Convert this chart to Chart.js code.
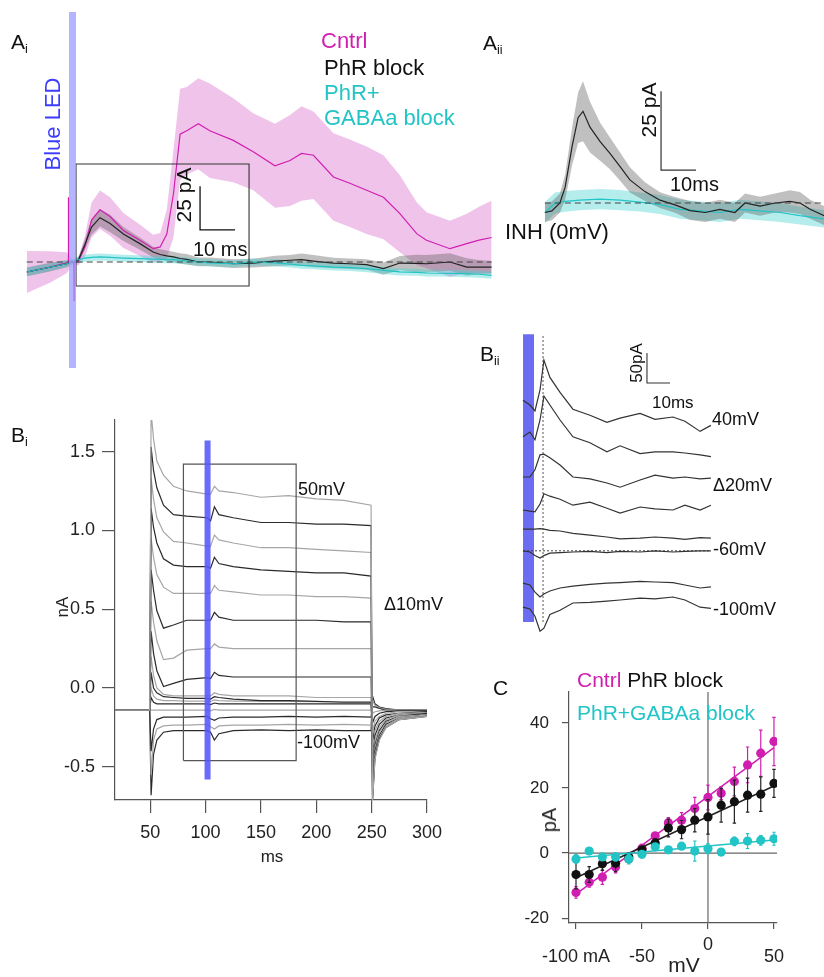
<!DOCTYPE html>
<html>
<head>
<meta charset="utf-8">
<script src="https://cdn.jsdelivr.net/npm/chart.js@4.4.1/dist/chart.umd.min.js"></script>
<style>
body { margin: 0; background: #fff; }
#fig { position: relative; width: 824px; height: 977px; overflow: hidden; font-family: "Liberation Sans", Arial, Helvetica, sans-serif; color: #111; }
canvas { position: absolute; }
.t { position: absolute; white-space: nowrap; line-height: 1; }
.t sub { font-size: 0.6em; vertical-align: baseline; position: relative; top: 0.3em; }
</style>
</head>
<body>
<div id="fig">
  <canvas id="ai" width="500" height="380" style="left:0;top:0"></canvas>
  <canvas id="aii" width="324" height="240" style="left:500px;top:20px"></canvas>
  <canvas id="bi" width="470" height="470" style="left:0;top:410px"></canvas>
  <canvas id="bii" width="220" height="310" style="left:500px;top:330px"></canvas>
  <canvas id="c" width="344" height="317" style="left:480px;top:660px"></canvas>
</div>
<script>
// ---- Ai : mean +/- sem, pA vs ms (0 = LED onset)
var aiTime = [-13.2, -6.6, -1.8, 0, 1.5, 3.4, 5.3, 7.7, 10.6, 14.4, 19.1, 22.9, 24.9, 26.8, 28.7, 30.6, 32.5, 35.8, 39.1, 45.8, 51.5, 57.7, 62, 65.3, 68.7, 74.4, 79.1, 83.9, 88.7, 93.4, 98.2, 101, 107.7, 112.5, 116, 119.6];
var aiCntrl = [-5.7, -2.9, -0.5, 0, 0, 8.7, 24, 29.8, 26, 18, 12.4, 7.6, 8.6, 16, 39, 73, 75, 79, 75, 69.5, 63, 55, 58, 62, 61, 48.6, 45, 41, 37, 27.6, 16.2, 12.4, 7.6, 10.5, 12.5, 14];
var aiCntrlSem = [12, 9, 6, 1, 2, 6, 10, 11, 11, 10, 9, 8, 8, 14, 25, 26, 25, 26, 27, 24, 22, 24, 26, 27, 25, 25, 25, 25, 24, 22, 18, 16, 16, 17, 19, 21];
var aiPhR = [-5.7, -3, -1, 0, 1, 10, 20, 25.3, 22, 16, 10.5, 5.7, 4.3, 3.5, 2.9, 2, 1.5, 0, 0, -1, -0.6, 0.5, 1, 1.3, 0.5, -0.6, -1, -1.5, -3.8, -0.6, -0.8, -1, 0, -2.9, -2.9, -2.9];
var aiPhRSem = [2.5, 2.5, 2, 1, 1.5, 3, 4.5, 5, 5, 4, 3.5, 3, 3, 3, 3, 3, 3, 2.5, 2.5, 2.5, 2.5, 3, 3, 3.5, 3.5, 3, 3, 3, 3.5, 4, 5, 5, 5, 5, 4, 3.5];
var aiGaba = [-5.7, -3, -1, 0.5, 1.3, 2.2, 2.6, 2.9, 2.6, 2.2, 1.9, 1.6, 1.5, 1.3, 1.3, 1, 0.5, 0, -0.5, -1, 0, -0.5, -1.2, -1.9, -2.2, -2.9, -3.2, -3.8, -4.8, -5.7, -5.9, -6.3, -6.5, -6.7, -7, -7.6];
var aiGabaSem = [2.5, 2.2, 2, 1.5, 2, 2, 2, 2, 2, 2, 2, 2, 2, 2, 2, 2, 2, 2, 2, 2, 2, 2, 2, 2, 2, 2, 2, 2, 2, 2, 2, 2, 2, 2, 2, 2];
var aiArtifactT = [-1.4, -1.3, -1.2, 0.2, 0.3, 0.4];
var aiArtifact = [0, 37, 0, 0, -22, 0];

// ---- Aii : INH (0 mV)
var aiiPhRT = [-2.9, -0.9, 1.4, 2.9, 4.9, 6.6, 8, 10, 12.9, 15.7, 18.6, 21.4, 25.7, 30, 34.3, 38.6, 42.9, 47.1, 51.4, 54.3, 58.6, 62.9, 67.1, 70, 72.9, 76.9];
var aiiPhR = [-3, -2.5, 0, 5, 18, 27, 29, 24, 19.4, 15.7, 11.5, 7.3, 3.6, 0.9, -0.6, -2.4, -3, -2, -3, 0, -1, 0, 0.5, 0, -2, -4];
var aiiPhRSem = [3, 3, 3, 4, 6, 8, 9.5, 8, 6, 5, 4.5, 4, 3, 2.5, 2.5, 3, 3, 3, 3, 3, 3, 3, 3.5, 3.5, 3, 3];
var aiiGabaT = [-2.9, 0, 2.9, 7.1, 12.9, 18.6, 24.3, 30, 35.7, 41.4, 47.1, 52.9, 58.6, 64.3, 70, 76.9];
var aiiGaba = [-3, 0, 0.5, 0.9, 1.2, 0.9, 0.3, -0.5, -2, -2.5, -3, -2, -2.5, -3, -4, -5];
var aiiGabaSem = [3.3, 3.3, 3.3, 3.2, 3.2, 3.2, 3, 3, 3, 3, 3, 3, 3, 3, 2.8, 2.8];

// ---- Bi : step currents (nA) vs ms
var biTimes = [18, 49.5, 50.8, 53, 56, 62, 71, 83, 101.5, 104.5, 108, 112, 125, 150, 175, 200, 225, 249.5, 250.8, 253, 257, 263, 275, 300];
var biSteps = [50, 40, 30, 20, 10, 0, -10, -20, -30, -40, -50, -60, -70, -80, -90, -100];
var biCurrents = [
  [-0.14, -0.14, 1.75, 1.58, 1.44, 1.35, 1.28, 1.25, 1.23, 1.23, 1.28, 1.25, 1.24, 1.21, 1.22, 1.20, 1.19, 1.16, -0.72, -0.45, -0.33, -0.25, -0.20, -0.18],
  [-0.14, -0.14, 1.53, 1.38, 1.27, 1.16, 1.10, 1.09, 1.08, 1.06, 1.15, 1.10, 1.08, 1.05, 1.05, 1.04, 1.04, 1.03, -0.72, -0.44, -0.32, -0.25, -0.20, -0.18],
  [-0.14, -0.14, 1.33, 1.20, 1.08, 0.99, 0.93, 0.92, 0.90, 0.90, 0.97, 0.94, 0.92, 0.89, 0.89, 0.88, 0.87, 0.86, -0.70, -0.42, -0.31, -0.24, -0.19, -0.17],
  [-0.14, -0.14, 1.14, 1.02, 0.92, 0.82, 0.78, 0.77, 0.77, 0.76, 0.83, 0.79, 0.77, 0.75, 0.74, 0.73, 0.73, 0.71, -0.68, -0.40, -0.30, -0.23, -0.19, -0.17],
  [-0.14, -0.14, 0.95, 0.83, 0.72, 0.64, 0.60, 0.60, 0.60, 0.60, 0.65, 0.62, 0.61, 0.59, 0.59, 0.58, 0.58, 0.57, -0.65, -0.38, -0.28, -0.22, -0.18, -0.17],
  [-0.14, -0.14, 0.75, 0.62, 0.49, 0.38, 0.40, 0.43, 0.43, 0.43, 0.48, 0.45, 0.43, 0.43, 0.43, 0.43, 0.42, 0.42, -0.60, -0.36, -0.27, -0.21, -0.18, -0.16],
  [-0.14, -0.14, 0.55, 0.42, 0.30, 0.18, 0.19, 0.24, 0.25, 0.25, 0.28, 0.26, 0.25, 0.25, 0.25, 0.25, 0.25, 0.25, -0.55, -0.33, -0.25, -0.20, -0.17, -0.16],
  [-0.14, -0.14, 0.36, 0.22, 0.11, 0.01, 0.03, 0.055, 0.066, 0.06, 0.10, 0.08, 0.07, 0.07, 0.07, 0.07, 0.07, 0.07, -0.50, -0.30, -0.23, -0.19, -0.17, -0.16],
  [-0.14, -0.14, 0.20, 0.08, 0.00, -0.04, -0.05, -0.05, -0.05, -0.05, -0.03, -0.04, -0.05, -0.05, -0.05, -0.06, -0.06, -0.06, -0.42, -0.27, -0.21, -0.18, -0.16, -0.155],
  [-0.14, -0.14, 0.10, 0.00, -0.03, -0.055, -0.06, -0.065, -0.066, -0.07, -0.055, -0.06, -0.07, -0.08, -0.08, -0.085, -0.09, -0.09, -0.35, -0.24, -0.19, -0.17, -0.16, -0.15],
  [-0.14, -0.14, 0.00, -0.05, -0.07, -0.08, -0.08, -0.083, -0.083, -0.085, -0.075, -0.08, -0.083, -0.085, -0.085, -0.087, -0.087, -0.087, -0.28, -0.21, -0.18, -0.16, -0.15, -0.15],
  [-0.14, -0.14, -0.06, -0.09, -0.10, -0.10, -0.10, -0.10, -0.10, -0.105, -0.095, -0.10, -0.10, -0.10, -0.10, -0.10, -0.10, -0.10, -0.22, -0.18, -0.16, -0.15, -0.145, -0.145],
  [-0.14, -0.14, -0.14, -0.14, -0.14, -0.14, -0.14, -0.14, -0.14, -0.145, -0.135, -0.14, -0.14, -0.14, -0.14, -0.14, -0.14, -0.14, -0.16, -0.15, -0.145, -0.14, -0.14, -0.14],
  [-0.14, -0.14, -0.40, -0.26, -0.20, -0.185, -0.185, -0.185, -0.18, -0.195, -0.205, -0.19, -0.185, -0.185, -0.18, -0.185, -0.18, -0.185, -0.12, -0.12, -0.13, -0.14, -0.14, -0.14],
  [-0.14, -0.14, -0.55, -0.33, -0.26, -0.24, -0.235, -0.235, -0.23, -0.245, -0.26, -0.24, -0.235, -0.235, -0.23, -0.235, -0.23, -0.235, -0.08, -0.11, -0.125, -0.135, -0.14, -0.14],
  [-0.14, -0.14, -0.68, -0.42, -0.33, -0.28, -0.27, -0.27, -0.27, -0.28, -0.33, -0.29, -0.27, -0.265, -0.27, -0.265, -0.27, -0.27, -0.05, -0.10, -0.12, -0.13, -0.14, -0.14]
];
var biXTicks = [50, 100, 150, 200, 250, 300];
var biYTicks = [-0.5, 0, 0.5, 1.0, 1.5];

// ---- Bii : LED evoked currents (pA, relative to each trace start)
var biiTimes = [0, 3, 5.2, 7.4, 9.1, 11.7, 16.1, 21.7, 29.1, 36.5, 42.2, 50.9, 57.4, 65.2, 70.4, 77, 81.7];
var biiHolding = [40, 20, 0, -20, -40, -60, -80, -100];
var biiTraces = [
  [0, -8, -18, 17, 67, 38, 13, -15, -25, -37, -30, -22, -32, -28, -35, -52, -42],
  [0, 8, -5, 28, 68, 53, 28, 0, -10, -25, -15, -28, -25, -25, -27, -30, -33],
  [0, 0, 12, 37, 38, 32, 20, 0, -3, -10, -17, -5, 3, -2, 0, -3, -2],
  [0, -2, -3, 10, 27, 23, 18, 8, 13, 3, -5, 5, 2, 0, 8, 0, 8],
  [0, 0, 0, 1, 0, -2, -3, -7, -10, -13, -16, -15, -13, -15, -17, -14, -15],
  [0, -2, -8, -12, -8, -4, -3, -2, -1, -3, -1, -2, 0, -2, -1, 0, 0],
  [0, -3, -15, -23, -18, -13, -8, -5, -2, 0, 1, 3, 2, 1, -3, -8, -6],
  [0, -3, -15, -40, -35, -12, -5, 7, 8, 10, 12, 15, 14, 17, 12, 0, -2]
];
// vertical stacking of the traces on the page (pA)
var biiOffsets = [383, 322, 255, 200, 168, 132, 78, 38];

// ---- C : I-V
var cVolt = [-100, -90, -80, -70, -60, -50, -40, -30, -20, -10, 0, 10, 20, 30, 40, 50];
var cCntrl = [-12.1, -9.0, -7.4, -4.3, -1.8, 1.5, 5.3, 9.3, 10.1, 13.7, 17.1, 18.4, 22.0, 27.1, 30.7, 34.3];
var cCntrlErr = [1.8, 1.5, 2.2, 1.8, 1, 1, 1, 1.6, 2.3, 3.4, 3.8, 2, 4.4, 5.5, 7.1, 7.4];
var cPhR = [-6.6, -6.6, -3.3, -3.1, -1.2, 1.0, 3.1, 7.7, 7.2, 10.1, 11.1, 14.7, 15.8, 17.8, 18.1, 21.4];
var cPhRErr = [4.4, 2.4, 2, 2.6, 1, 1, 1.3, 2.7, 2.8, 3.6, 5.3, 5.2, 6.6, 5.2, 5.3, 4.3];
var cGaba = [-1.8, 0.6, -1.2, -1.2, -1.8, -0.4, 1.9, 1.0, 2.1, 0.6, 1.3, 0.3, 3.6, 3.7, 3.9, 4.4];
var cGabaErr = [1.3, 0.8, 1, 1.2, 1.5, 1, 1, 0.8, 0.8, 3.1, 1.5, 0.8, 1.3, 2.3, 1.5, 2];
var cFitV = [-100, 50];
var cCntrlFit = [-12.6, 32.4];
var cPhRFit = [-7.6, 20.6];
var cGabaFit = [-1.5, 4.0];
var cXTicks = [-100, -50, 0, 50];
var cXTickText = ['-100 mA', '-50', '', '50'];
var cYTicks = [-20, 0, 20, 40];

var MAG = '#d01fb0', CYAN = '#22c4c6';

Chart.defaults.font.family = '"Liberation Sans", Arial, Helvetica, sans-serif';
Chart.defaults.color = '#222';

function pts(xs, ys, add) {
  return xs.map(function (x, i) { return { x: x, y: ys[i] + (add || 0) }; });
}
function shifted(xs, ys, err, sign) {
  return xs.map(function (x, i) { return { x: x, y: ys[i] + sign * err[i] }; });
}
function seg(x0, y0, x1, y1) { return [{ x: x0, y: y0 }, { x: x1, y: y1 }]; }
function rect(x0, y0, x1, y1) {
  return [{ x: x0, y: y0 }, { x: x1, y: y0 }, { x: x1, y: y1 }, { x: x0, y: y1 }, { x: x0, y: y0 }];
}
function lineDs(data, color, width, dash) {
  return { data: data, borderColor: color, borderWidth: width, borderDash: dash || [], pointRadius: 0, fill: false, tension: 0 };
}
function bandDs(xs, ys, err, color) {
  return [
    { data: shifted(xs, ys, err, 1), borderWidth: 0, borderColor: 'rgba(0,0,0,0)', backgroundColor: color, pointRadius: 0, fill: '+1' },
    { data: shifted(xs, ys, err, -1), borderWidth: 0, borderColor: 'rgba(0,0,0,0)', pointRadius: 0, fill: false }
  ];
}
function bareOptions(xmin, xmax, ymin, ymax) {
  return {
    animation: false, responsive: false, events: [],
    layout: { padding: 0 },
    plugins: { legend: { display: false }, tooltip: { enabled: false } },
    scales: {
      x: { type: 'linear', display: false, min: xmin, max: xmax },
      y: { type: 'linear', display: false, min: ymin, max: ymax }
    }
  };
}
// fix the axis box size and drop the label overflow padding
function fixBox(size, horizontal) {
  return function (s) {
    if (horizontal) s.height = size; else s.width = size;
    s.paddingTop = 0; s.paddingBottom = 0; s.paddingLeft = 0; s.paddingRight = 0;
  };
}

// ---------- Ai
var aiSets = [
  lineDs(seg(-0.14, -60.6, -0.14, 142.9), 'rgba(160,160,255,0.78)', 7),
  lineDs(rect(0.86, -13.7, 50.3, 56), '#333', 1.1),
  lineDs([{ x: 36.3, y: 43.3 }, { x: 36.3, y: 18.3 }, { x: 46.3, y: 18.3 }], '#111', 1.3),
  lineDs(seg(-13.2, 0, 119.6, 0), '#444', 1.1, [6, 4]),
  lineDs(pts(aiTime, aiGaba), CYAN, 1.2),
  lineDs(pts(aiTime, aiPhR), '#222', 1.2),
  lineDs(pts(aiTime, aiCntrl), MAG, 1.2),
  lineDs(pts(aiArtifactT, aiArtifact), MAG, 1.5)
].concat(bandDs(aiTime, aiGaba, aiGabaSem, 'rgba(70,210,210,0.4)'))
 .concat(bandDs(aiTime, aiPhR, aiPhRSem, 'rgba(90,90,90,0.38)'))
 .concat(bandDs(aiTime, aiCntrl, aiCntrlSem, 'rgba(222,125,208,0.45)'));

new Chart(document.getElementById('ai'), {
  type: 'line',
  data: { datasets: aiSets },
  options: bareOptions(-20.857, 122.0, -67.43, 149.71)
});

// ---------- Aii
var aiiSets = [
  lineDs([{ x: 30.3, y: 35.4 }, { x: 30.3, y: 10.4 }, { x: 40.3, y: 10.4 }], '#333', 1.2),
  lineDs(seg(-2.9, 0, 76.9, 0), '#444', 1.1, [6, 4]),
  lineDs(pts(aiiPhRT, aiiPhR), '#222', 1.2),
  lineDs(pts(aiiGabaT, aiiGaba), CYAN, 1.2)
].concat(bandDs(aiiPhRT, aiiPhR, aiiPhRSem, 'rgba(90,90,90,0.38)'))
 .concat(bandDs(aiiGabaT, aiiGaba, aiiGabaSem, 'rgba(70,210,210,0.4)'));

new Chart(document.getElementById('aii'), {
  type: 'line',
  data: { datasets: aiiSets },
  options: bareOptions(-15.714, 76.857, -18.04, 57.91)
});

// ---------- Bi
var biSets = [
  lineDs(seg(101.8, -0.58, 101.8, 1.57), 'rgba(85,85,250,0.88)', 6),
  lineDs(rect(80, -0.46, 181.8, 1.42), '#555', 1.2)
];
biCurrents.forEach(function (trace, i) {
  biSets.push(lineDs(pts(biTimes, trace), i % 2 === 0 ? '#a6a6a6' : '#2a2a2a', 1.2));
});

new Chart(document.getElementById('bi'), {
  type: 'line',
  data: { datasets: biSets },
  options: {
    animation: false, responsive: false, events: [],
    layout: { padding: { left: 0, top: 10, right: 43, bottom: 0 } },
    plugins: { legend: { display: false }, tooltip: { enabled: false } },
    scales: {
      x: {
        type: 'linear', min: 18.2, max: 300,
        afterFit: fixBox(80, true),
        afterBuildTicks: function (s) { s.ticks = biXTicks.map(function (v) { return { value: v }; }); },
        ticks: { font: { size: 18 }, padding: 9, maxRotation: 0 },
        grid: { drawOnChartArea: false, drawTicks: true, tickLength: 13, color: '#555', lineWidth: 1.2 },
        border: { display: true, color: '#555', width: 1.2 }
      },
      y: {
        type: 'linear', min: -0.71, max: 1.70,
        afterFit: fixBox(115, false),
        afterBuildTicks: function (s) { s.ticks = biYTicks.map(function (v) { return { value: v }; }); },
        ticks: { font: { size: 18 }, padding: 7, callback: function (v) { return v.toFixed(1); } },
        grid: { drawOnChartArea: false, drawTicks: true, tickLength: 13, color: '#555', lineWidth: 1.2 },
        border: { display: true, color: '#555', width: 1.2 }
      }
    }
  }
});

// ---------- Bii
var biiSets = [
  lineDs([{ x: 53.9, y: 461.7 }, { x: 53.9, y: 411.7 }, { x: 63.9, y: 411.7 }], '#333', 1.1)
];
biiTraces.forEach(function (trace, i) {
  biiSets.push(lineDs(pts(biiTimes, trace, biiOffsets[i]), '#333', 1.2));
});
biiSets.push(lineDs(seg(0, biiOffsets[5], 81.7, biiOffsets[5]), '#444', 1, [2, 2]));
biiSets.push(lineDs(seg(8.7, 13.3, 8.7, 493), '#555', 1, [2, 2]));
biiSets.push(lineDs(seg(2.4, 13.3, 2.4, 493), 'rgba(100,100,242,0.95)', 11));

new Chart(document.getElementById('bii'), {
  type: 'line',
  data: { datasets: biiSets },
  options: bareOptions(-10, 85.65, -16.67, 500)
});

// ---------- C
function errorBars(xs, ys, err, cap) {
  var out = [];
  xs.forEach(function (x, i) {
    var lo = ys[i] - err[i], hi = ys[i] + err[i];
    out.push({ x: x, y: lo }, { x: x, y: hi }, { x: x, y: null },
             { x: x - cap, y: hi }, { x: x + cap, y: hi }, { x: x, y: null },
             { x: x - cap, y: lo }, { x: x + cap, y: lo }, { x: x, y: null });
  });
  return out;
}
function dotsDs(xs, ys, color) {
  return { data: pts(xs, ys), showLine: false, pointRadius: 4.6, pointBorderWidth: 0, pointBackgroundColor: color, borderColor: color };
}
var cSets = [
  dotsDs(cVolt, cGaba, CYAN),
  lineDs(errorBars(cVolt, cGaba, cGabaErr, 1.3), CYAN, 1.2),
  lineDs(pts(cFitV, cGabaFit), CYAN, 1.5),
  dotsDs(cVolt, cPhR, '#111'),
  lineDs(errorBars(cVolt, cPhR, cPhRErr, 1.3), '#222', 1.2),
  lineDs(pts(cFitV, cPhRFit), '#222', 1.5),
  dotsDs(cVolt, cCntrl, MAG),
  lineDs(errorBars(cVolt, cCntrl, cCntrlErr, 1.3), MAG, 1.2),
  lineDs(pts(cFitV, cCntrlFit), MAG, 1.5),
  lineDs(seg(-105.3, 0, 52.3, 0), '#666', 1.2),
  lineDs(seg(0, -21.5, 0, 49.5), '#666', 1.2)
];
cSets.forEach(function (d) { d.spanGaps = false; });

new Chart(document.getElementById('c'), {
  type: 'line',
  data: { datasets: cSets },
  options: {
    animation: false, responsive: false, events: [],
    layout: { padding: { left: 0, top: 32, right: 47, bottom: 0 } },
    plugins: { legend: { display: false }, tooltip: { enabled: false } },
    scales: {
      x: {
        type: 'linear', min: -105.3, max: 52.3,
        afterFit: fixBox(54, true),
        afterBuildTicks: function (s) { s.ticks = cXTicks.map(function (v) { return { value: v }; }); },
        ticks: { font: { size: 18 }, padding: 17, maxRotation: 0, autoSkip: false,
          callback: function (v) { return cXTickText[cXTicks.indexOf(v)]; } },
        grid: { drawOnChartArea: false, drawTicks: true, tickLength: 6, color: '#555', lineWidth: 1.2 },
        border: { display: true, color: '#555', width: 1.2 }
      },
      y: {
        type: 'linear', min: -21.5, max: 49.5,
        afterFit: fixBox(89, false),
        afterBuildTicks: function (s) { s.ticks = cYTicks.map(function (v) { return { value: v }; }); },
        ticks: { font: { size: 17 }, padding: 13 },
        grid: { drawOnChartArea: false, drawTicks: true, tickLength: 7, color: '#555', lineWidth: 1.2 },
        border: { display: true, color: '#555', width: 1.2 }
      }
    }
  }
});

// ---------- text
var texts = [
  // html, x, y, size, color, mode
  ['A<sub>i</sub>', 11, 41, 21, '#111', 'left'],
  ['Blue LED', 53, 124, 22, '#3c3cff', 'rot'],
  ['Cntrl', 321, 41, 22, MAG, 'left'],
  ['PhR block', 324, 68, 22, '#111', 'left'],
  ['PhR+', 324, 93, 22, CYAN, 'left'],
  ['GABAa block', 324, 118, 22, CYAN, 'left'],
  ['25 pA', 183, 195, 21, '#111', 'rot'],
  ['10 ms', 193, 249, 20, '#111', 'left'],
  ['A<sub>ii</sub>', 483, 42, 21, '#111', 'left'],
  ['25 pA', 648, 110, 21, '#111', 'rot'],
  ['10ms', 670, 184, 20, '#111', 'left'],
  ['INH (0mV)', 505, 232, 22, '#111', 'left'],
  ['B<sub>i</sub>', 11, 434, 21, '#111', 'left'],
  ['50mV', 298, 489, 18, '#111', 'left'],
  ['\u039410mV', 384, 604, 18, '#111', 'left'],
  ['-100mV', 297, 742, 18, '#111', 'left'],
  ['nA', 62, 607, 17, '#222', 'rot'],
  ['ms', 272, 856, 17, '#222', 'center'],
  ['B<sub>ii</sub>', 480, 353, 21, '#111', 'left'],
  ['50pA', 636, 363, 17, '#111', 'rot'],
  ['10ms', 652, 402, 17, '#111', 'left'],
  ['40mV', 712, 419, 18, '#111', 'left'],
  ['\u039420mV', 713, 485, 18, '#111', 'left'],
  ['-60mV', 713, 549, 18, '#111', 'left'],
  ['-100mV', 713, 609, 18, '#111', 'left'],
  ['C', 493, 687, 21, '#111', 'left'],
  ['<span style="color:' + MAG + '">Cntrl</span> PhR block', 577, 679, 21, '#111', 'left'],
  ['PhR+GABAa block', 577, 712, 21, CYAN, 'left'],
  ['pA', 549, 820, 20, '#222', 'rot'],
  ['0', 708, 944, 18, '#222', 'center'],
  ['mV', 684, 964, 21, '#222', 'center']
];
var fig = document.getElementById('fig');
texts.forEach(function (t) {
  var d = document.createElement('div');
  d.className = 't';
  d.innerHTML = t[0];
  d.style.left = t[1] + 'px';
  d.style.top = t[2] + 'px';
  d.style.fontSize = t[3] + 'px';
  d.style.color = t[4];
  if (t[5] === 'rot') d.style.transform = 'translate(-50%,-50%) rotate(-90deg)';
  else if (t[5] === 'center') d.style.transform = 'translate(-50%,-50%)';
  else d.style.transform = 'translateY(-50%)';
  fig.appendChild(d);
});
</script>
</body>
</html>
